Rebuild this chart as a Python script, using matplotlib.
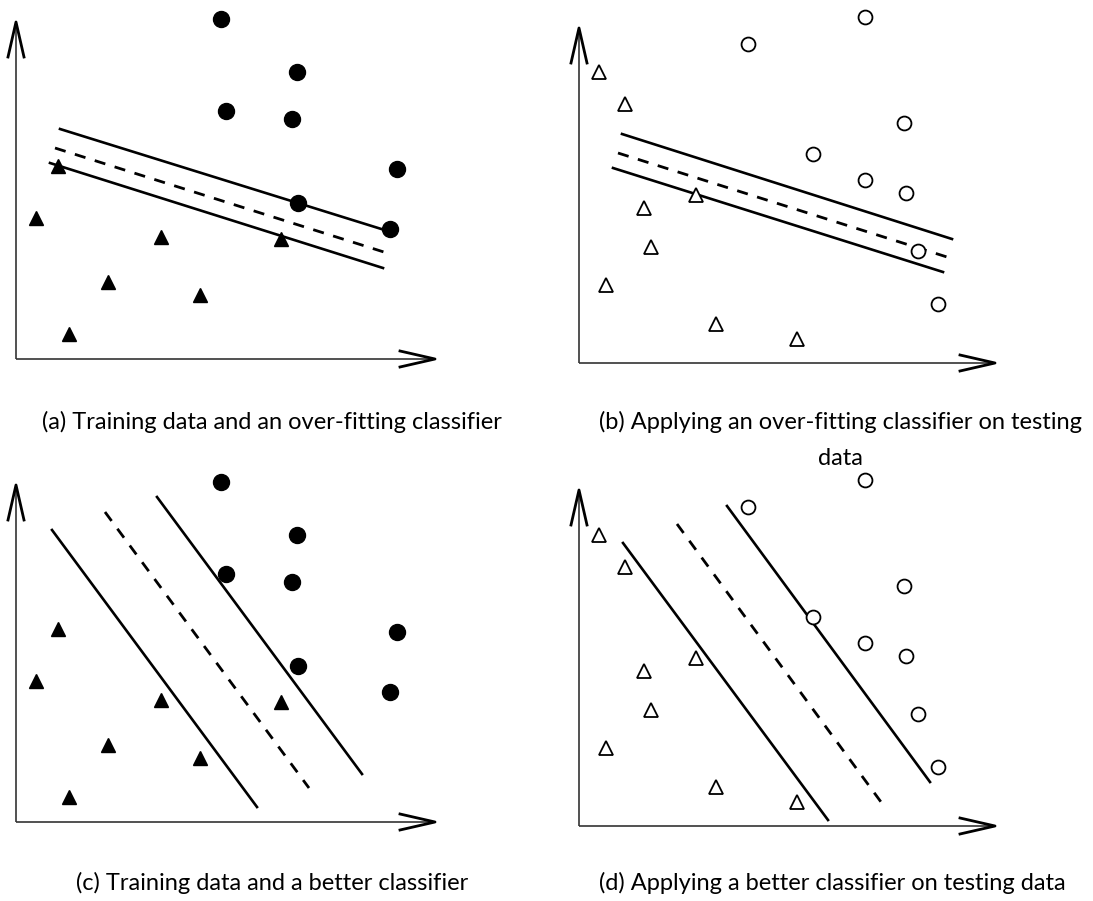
import numpy as np
import matplotlib.pyplot as plt

# training data (panels a, c), local coords: x right of y-axis, y above x-axis (px)
train_pos_x = [205, 281, 210, 276, 381, 282, 374]
train_pos_y = [340, 287, 248, 240, 190, 156, 130]
train_neg_x = [42, 20, 145, 265, 92, 184, 53]
train_neg_y = [193, 141, 122, 120, 77, 64, 25]

# testing data (panels b, d)
test_pos_x = [286, 169, 325, 234, 286, 327, 339, 359]
test_pos_y = [346, 319, 240, 209, 183, 170, 112, 59]
test_neg_x = [20, 46, 117, 65, 72, 27, 137, 218]
test_neg_y = [291, 259, 168, 155, 116, 78, 39, 24]

# classifier lines: (x0, y0, x1, y1) upper margin, boundary, lower margin
overfit_a = [(44, 230, 375, 127), (39, 211, 371, 106), (34, 196, 367, 91)]
overfit_b = [(43, 229, 373, 124), (39, 210, 368, 106), (34, 195, 364, 91)]
better_c = [(141, 325, 346, 48), (89, 310, 293, 34), (36, 292, 241, 15)]
better_d = [(148, 320, 351, 44), (98, 302, 302, 24), (44, 283, 249, 6)]

captions = [
    "(a) Training data and an over-fitting classifier",
    "(b) Applying an over-fitting classifier on testing\ndata",
    "(c) Training data and a better classifier",
    "(d) Applying a better classifier on testing data",
]

W, H = 1093, 901
fig = plt.figure(figsize=(W / 100, H / 100), dpi=100)
plt.rcParams['font.family'] = ['Lato', 'DejaVu Sans']


def make_axes(box, origin):
    # box = (x0, y0, w, h) in figure pixels from top-left, origin = axis corner in px
    x0, y0, w, h = box
    ox, oy = origin
    ax = fig.add_axes([x0 / W, 1 - (y0 + h) / H, w / W, h / H])
    ax.set_xlim(x0 - ox, x0 + w - ox)
    ax.set_ylim(oy - (y0 + h), oy - y0)
    ax.axis('off')
    return ax


def draw_frame(ax, xtip, ytop):
    kw = dict(color='#333333', lw=1.2, solid_capstyle='butt', clip_on=False)
    ax.plot([0, xtip], [0, 0], **kw)
    ax.plot([0, 0], [0, ytop], **kw)
    hk = dict(color='black', lw=2.0, clip_on=False)
    ax.plot([xtip - 35, xtip, xtip - 35], [8, 0, -8], **hk)
    ax.plot([-8, 0, 8], [ytop - 35, ytop, ytop - 35], **hk)


def draw_lines(ax, lines):
    for i, (xa, ya, xb, yb) in enumerate(lines):
        if i == 1:
            ax.plot([xa, xb], [ya, yb], color='black', lw=2.0,
                    dashes=(4, 3.5), clip_on=False)
        else:
            ax.plot([xa, xb], [ya, yb], color='black', lw=1.9, clip_on=False)


def draw_train(ax):
    ax.plot(train_pos_x, train_pos_y, 'o', ms=11.5, color='black',
            clip_on=False, zorder=3)
    ax.plot(train_neg_x, train_neg_y, '^', ms=10.5, color='black',
            clip_on=False, zorder=3)


def draw_test(ax):
    ax.plot(test_pos_x, test_pos_y, 'o', ms=10, mfc='white', mec='black',
            mew=1.3, clip_on=False, zorder=3)
    ax.plot(test_neg_x, test_neg_y, '^', ms=10, mfc='white', mec='black',
            mew=1.3, clip_on=False, zorder=3)


ax_a = make_axes((0, 0, 460, 380), (16, 359))
draw_frame(ax_a, 419, 337)
draw_lines(ax_a, overfit_a)
draw_train(ax_a)

ax_b = make_axes((560, 0, 460, 380), (579, 363))
draw_frame(ax_b, 416, 335)
draw_lines(ax_b, overfit_b)
draw_test(ax_b)

ax_c = make_axes((0, 460, 460, 380), (16, 822))
draw_frame(ax_c, 419, 337)
draw_lines(ax_c, better_c)
draw_train(ax_c)

ax_d = make_axes((560, 460, 460, 380), (579, 826))
draw_frame(ax_d, 416, 336)
draw_lines(ax_d, better_d)
draw_test(ax_d)

# caption centre x and first-line baseline y (px from top)
cap_pos = [(272, 429), (840, 429), (272, 890), (832, 890)]
line_pitch = 36
for (cx, cy), txt in zip(cap_pos, captions):
    for k, line in enumerate(txt.split('\n')):
        fig.text(cx / W, 1 - (cy + k * line_pitch) / H, line, ha='center',
                 va='baseline', fontsize=17)

fig.savefig('out.png', dpi=100, facecolor='white')
